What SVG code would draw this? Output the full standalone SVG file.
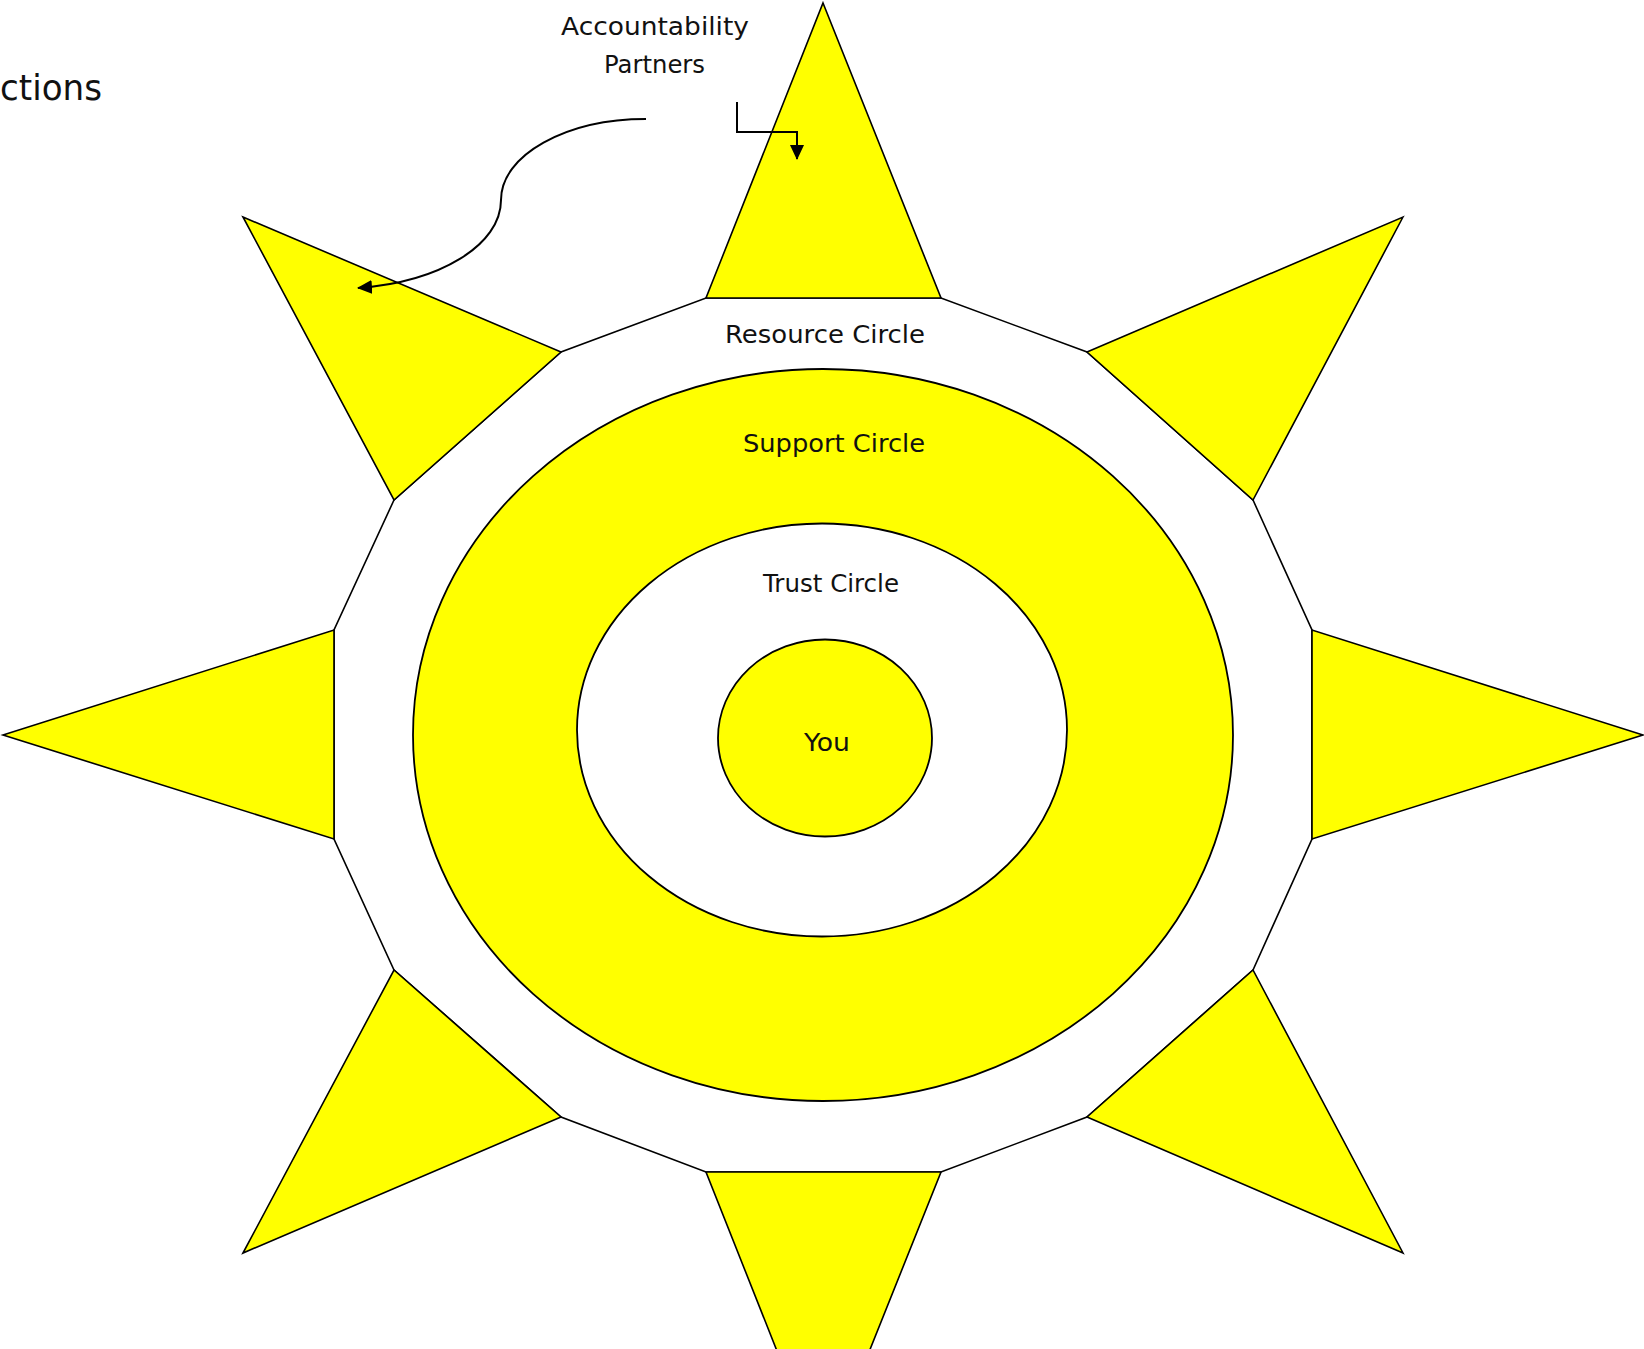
<svg xmlns="http://www.w3.org/2000/svg" width="1644" height="1349" viewBox="0 0 1644 1349">
  <style>
    .ray { fill: #ffff00; stroke: #000; stroke-width: 1.6; stroke-linejoin: miter; }
    .ring { stroke: #000; stroke-width: 1.8; }
    .lbl { font-family: "DejaVu Sans", "Liberation Sans", sans-serif; font-size: 24px; fill: #111; }
    .conn { fill: none; stroke: #000; stroke-width: 2; }
  </style>
  <defs>
    <marker id="arr" markerWidth="16" markerHeight="14" refX="14" refY="7" orient="auto" markerUnits="userSpaceOnUse">
      <path d="M0,0 L15,7 L0,14 Z" fill="#000"/>
    </marker>
  </defs>
  <rect x="0" y="0" width="1644" height="1349" fill="#fff"/>

  <g id="star-body">
    <polygon points="706,298 941,298 1087,352 1253,500 1312,630 1312,839 1253,970 1087,1117 941,1172 706,1172 561,1117 394,970 334,839 334,630 394,500 561,352" fill="#fff" stroke="#000" stroke-width="1.6"/>
  </g>

  <g id="rays">
    <polygon id="ray-top" class="ray" points="823,3 941,298 706,298"/>
    <polygon id="ray-top-right" class="ray" points="1403,217 1253,500 1087,352"/>
    <polygon id="ray-right" class="ray" points="1643,735 1312,839 1312,630"/>
    <polygon id="ray-bottom-right" class="ray" points="1403,1253 1087,1117 1253,970"/>
    <polygon id="ray-bottom" class="ray" points="823,1467 706,1172 941,1172"/>
    <polygon id="ray-bottom-left" class="ray" points="243,1253 394,970 561,1117"/>
    <polygon id="ray-left" class="ray" points="3,735 334,630 334,839"/>
    <polygon id="ray-top-left" class="ray" points="243,217 561,352 394,500"/>
  </g>

  <g id="support-circle">
    <ellipse class="ring" cx="823" cy="735" rx="410" ry="366" fill="#ffff00"/>
  </g>
  <g id="trust-circle">
    <ellipse class="ring" cx="822" cy="730" rx="245" ry="206.5" fill="#fff"/>
  </g>
  <g id="you">
    <ellipse class="ring" cx="825" cy="738" rx="107" ry="98.5" fill="#ffff00"/>
  </g>

  <g id="labels">
    <text class="lbl" x="0" y="100" style="font-size:36px" textLength="102" lengthAdjust="spacingAndGlyphs">ctions</text>
    <text class="lbl" x="561" y="35" textLength="188" lengthAdjust="spacingAndGlyphs">Accountability</text>
    <text class="lbl" x="604" y="73" textLength="101" lengthAdjust="spacingAndGlyphs">Partners</text>
    <text class="lbl" x="725" y="343" textLength="200" lengthAdjust="spacingAndGlyphs">Resource Circle</text>
    <text class="lbl" x="743" y="452" textLength="182" lengthAdjust="spacingAndGlyphs">Support Circle</text>
    <text class="lbl" x="763" y="592" textLength="136" lengthAdjust="spacingAndGlyphs">Trust Circle</text>
    <text class="lbl" x="804" y="751" textLength="46" lengthAdjust="spacingAndGlyphs">You</text>
  </g>

  <g id="connectors">
    <path class="conn" d="M646,119 C566,119 501,155 501,200 C501,245 440,282 358,288" marker-end="url(#arr)"/>
    <path class="conn" d="M737,102 V132 H797 V159" marker-end="url(#arr)"/>
  </g>
</svg>
